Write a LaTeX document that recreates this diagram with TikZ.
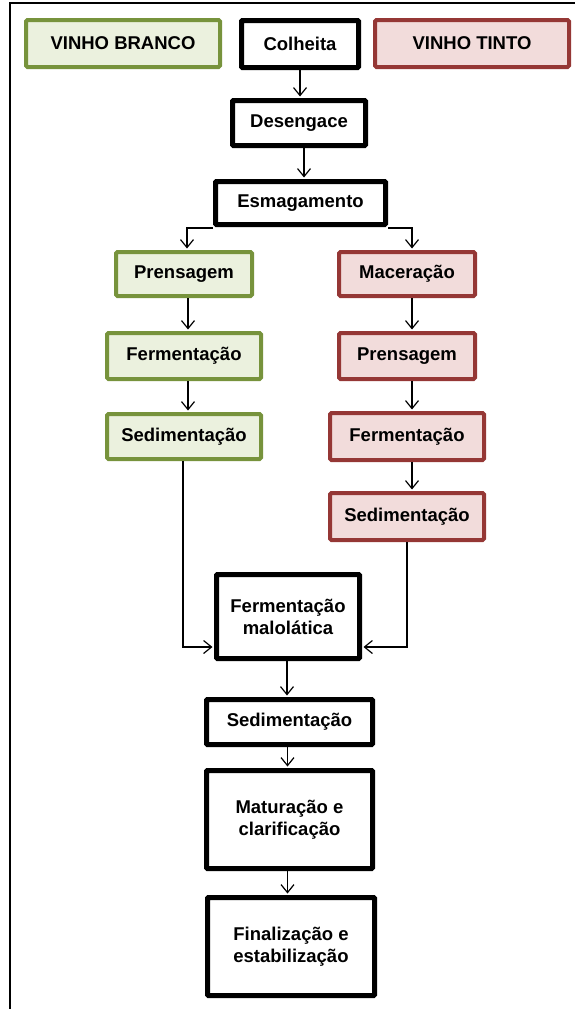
\documentclass[tikz,border=0pt]{standalone}
\usepackage{fontspec}
\setmainfont{Liberation Sans}
\usetikzlibrary{arrows.meta,calc}
\definecolor{gborder}{HTML}{77933C}
\definecolor{gfill}{HTML}{EBF1DE}
\definecolor{rborder}{HTML}{953735}
\definecolor{rfill}{HTML}{F2DCDB}
\tikzset{
  base/.style={inner sep=0pt, align=center, font=\fontsize{18.5}{22}\selectfont\bfseries},
  blackbox/.style={base, draw=black, line width=5pt, fill=white, rounded corners=1pt},
  greenbox/.style={base, draw=gborder, line width=4pt, fill=gfill, rounded corners=1.5pt},
  redbox/.style={base, draw=rborder, line width=4pt, fill=rfill, rounded corners=1.5pt},
  arr/.style={draw=black, line width=1.2pt, -{Straight Barb[length=8pt,width=13pt,line width=1.2pt]}, shorten >=1.5pt}
}
\begin{document}
\begin{tikzpicture}[x=1pt,y=-1pt]
\useasboundingbox (0,0) rectangle (575,1009);
\draw[line width=2pt] (10,1009) -- (10,3) -- (575,3);

\node[greenbox, minimum width=194pt, minimum height=47pt] (branco) at (123,43.5) {VINHO BRANCO};
\node[blackbox, minimum width=117pt, minimum height=47pt] (colheita) at (300,44) {Colheita};
\node[redbox, minimum width=194pt, minimum height=47pt] (tinto) at (472,43.5) {VINHO TINTO};
\node[blackbox, minimum width=133pt, minimum height=45pt] (desen) at (299,123) {Desengace};
\node[blackbox, minimum width=170pt, minimum height=43pt] (esmag) at (300.5,203) {Esmagamento};
\node[greenbox, minimum width=136pt, minimum height=44pt] (prensG) at (184,274) {Prensagem};
\node[redbox, minimum width=136pt, minimum height=44pt] (macer) at (407,274) {Maceração};
\node[greenbox, minimum width=154pt, minimum height=46pt] (fermG) at (184,356) {Fermentação};
\node[redbox, minimum width=136pt, minimum height=46pt] (prensR) at (407,356) {Prensagem};
\node[greenbox, minimum width=154pt, minimum height=45pt] (sedG) at (184,436.5) {Sedimentação};
\node[redbox, minimum width=154pt, minimum height=47pt] (fermR) at (407,436.5) {Fermentação};
\node[redbox, minimum width=154pt, minimum height=47pt] (sedR) at (407,516.5) {Sedimentação};
\node[blackbox, minimum width=143pt, minimum height=84pt] (malo) at (288,616.5) {Fermentação\\malolática};
\node[blackbox, minimum width=166pt, minimum height=45pt] (sed) at (289.5,722) {Sedimentação};
\node[blackbox, minimum width=166pt, minimum height=98pt] (matur) at (289.5,819.5) {Maturação e\\clarificação};
\node[blackbox, minimum width=167pt, minimum height=98pt] (final) at (291,946.5) {Finalização e\\estabilização};

\coordinate (a2) at ($(desen.south)+(5,0)$);
\coordinate (a3) at ($(prensG.south)+(4,0)$);
\coordinate (a4) at ($(fermG.south)+(4,0)$);
\coordinate (a5) at ($(macer.south)+(5,0)$);
\coordinate (a6) at ($(prensR.south)+(5,0)$);
\coordinate (a7) at ($(fermR.south)+(5,0)$);
\coordinate (a8) at ($(malo.south)+(-1,0)$);
\coordinate (a9) at ($(sed.south)+(-2,0)$);
\coordinate (a10) at ($(matur.south)+(-2,0)$);
\coordinate (bl) at ($(esmag.south west)+(0,1)$);
\coordinate (br) at ($(esmag.south east)+(0,1)$);
\coordinate (tl) at ($(prensG.north)+(3,0)$);
\coordinate (tr) at ($(macer.north)+(5,0)$);
\coordinate (sl) at ($(sedG.south)+(-1,0)$);
\coordinate (ml) at ($(malo.west)+(0,30.5)$);
\coordinate (mr) at ($(malo.east)+(0,30.5)$);

\draw[arr] (colheita.south) -- (colheita.south |- desen.north);
\draw[arr] (a2) -- (a2 |- esmag.north);
\draw[arr] (bl) -| (tl);
\draw[arr] (br) -| (tr);
\draw[arr] (a3) -- (a3 |- fermG.north);
\draw[arr] (a4) -- (a4 |- sedG.north);
\draw[arr] (a5) -- (a5 |- prensR.north);
\draw[arr] (a6) -- (a6 |- fermR.north);
\draw[arr] (a7) -- (a7 |- sedR.north);
\draw[arr] (sl) |- (ml);
\draw[arr] (sedR.south) |- (mr);
\draw[arr] (a8) -- (a8 |- sed.north);
\draw[arr] (a9) -- (a9 |- matur.north);
\draw[arr] (a10) -- (a10 |- final.north);
\end{tikzpicture}
\end{document}
